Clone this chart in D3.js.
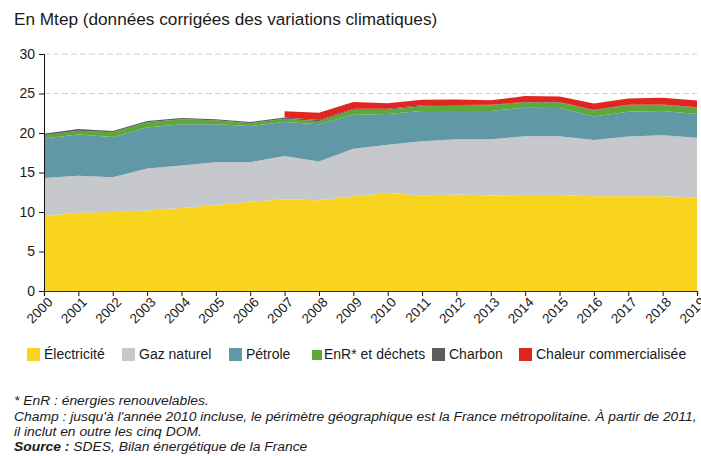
<!DOCTYPE html>
<html>
<head>
<meta charset="utf-8">
<script src="https://cdn.jsdelivr.net/npm/d3@7"></script>
<style>
  body { margin: 0; background: #fff; }
  svg { font-family: "Liberation Sans", Arial, sans-serif; }
</style>
</head>
<body>
<div id="chart"></div>
<script>
const years = [2000, 2001, 2002, 2003, 2004, 2005, 2006, 2007, 2008, 2009,
  2010, 2011, 2012, 2013, 2014, 2015, 2016, 2017, 2018, 2019];

const electricite = [9.5, 9.9, 10.0, 10.2, 10.5, 10.9, 11.3, 11.6, 11.5, 12.0,
  12.4, 12.1, 12.2, 12.1, 12.15, 12.15, 12.0, 12.0, 12.0, 11.85];
const gazNaturel = [4.8, 4.7, 4.4, 5.3, 5.4, 5.4, 5.0, 5.5, 4.9, 6.0,
  6.1, 6.85, 7.0, 7.1, 7.45, 7.45, 7.1, 7.55, 7.7, 7.55];
const petrole = [5.0, 5.2, 5.1, 5.2, 5.2, 4.8, 4.6, 4.3, 4.7, 4.3,
  3.9, 3.85, 3.6, 3.6, 3.6, 3.55, 3.0, 3.15, 3.1, 3.0];
const enr = [0.4, 0.5, 0.6, 0.65, 0.65, 0.5, 0.35, 0.4, 0.4, 0.65,
  0.55, 0.6, 0.65, 0.7, 0.65, 0.7, 0.75, 0.8, 0.75, 0.8];
const charbon = [0.22, 0.2, 0.15, 0.18, 0.15, 0.15, 0.15, 0.15, 0.15, 0.13,
  0.13, 0.1, 0.1, 0.08, 0.08, 0.07, 0.07, 0.07, 0.06, 0.06];
// pas de donnée avant 2007
const chaleur = [null, null, null, null, null, null, null, 0.8, 0.9, 0.85,
  0.7, 0.7, 0.7, 0.55, 0.75, 0.7, 0.8, 0.8, 0.85, 0.85];

const seriesNames = ["Électricité", "Gaz naturel", "Pétrole", "EnR* et déchets",
  "Charbon", "Chaleur commercialisée"];
const yTicks = [0, 5, 10, 15, 20, 25, 30];

const title = "En Mtep (données corrigées des variations climatiques)";
const notes = [
  { text: "* EnR : énergies renouvelables.", bold: null },
  { text: "Champ : jusqu'à l'année 2010 incluse, le périmètre géographique est la France métropolitaine. À partir de 2011,", bold: null },
  { text: "il inclut en outre les cinq DOM.", bold: null },
  { text: " SDES, Bilan énergétique de la France", bold: "Source :" }
];

const colors = ["#f9d41e", "#c7c8cb", "#6198a6", "#5ea83a", "#5b5d5f", "#e1251f"];

const w = 701;
const h = 456;
const marginLeft = 44;
const plotRight = 697;
const plotTop = 54;
const plotBottom = 291;

const rows = years.map(function (yr, i) {
  return {
    year: yr,
    s0: electricite[i],
    s1: gazNaturel[i],
    s2: petrole[i],
    s3: enr[i],
    s4: charbon[i],
    s5: chaleur[i] === null ? 0 : chaleur[i],
    hasChaleur: chaleur[i] !== null
  };
});
const keys = ["s0", "s1", "s2", "s3", "s4", "s5"];

const stacked = d3.stack().keys(keys)(rows);

let x = d3.scaleLinear()
  .domain([years[0], years[years.length - 1]])
  .range([marginLeft, plotRight]);

let y = d3.scaleLinear()
  .domain([0, 30])
  .range([plotBottom, plotTop]);

let svg = d3.select("#chart")
  .append("svg")
  .attr("width", w)
  .attr("height", h);

svg.append("text")
  .attr("x", 14)
  .attr("y", 25)
  .attr("font-size", 17.2)
  .attr("fill", "#1a1a1a")
  .text(title);

// grille pointillée
svg.append("g")
  .selectAll("line")
  .data(yTicks.filter(function (d) { return d > 0; }))
  .enter()
  .append("line")
  .attr("x1", marginLeft)
  .attr("x2", plotRight)
  .attr("y1", function (d) { return y(d); })
  .attr("y2", function (d) { return y(d); })
  .attr("stroke", "#cfcfcf")
  .attr("stroke-width", 1)
  .attr("stroke-dasharray", "6,3");

let area = d3.area()
  .x(function (d) { return x(d.data.year); })
  .y0(function (d) { return y(d[0]); })
  .y1(function (d) { return y(d[1]); });

svg.append("g")
  .selectAll("path")
  .data(stacked)
  .enter()
  .append("path")
  .attr("fill", function (d, i) { return colors[i]; })
  .attr("d", function (d, i) {
    if (i === 5) {
      return area.defined(function (p) { return p.data.hasChaleur; })(d);
    }
    return area.defined(function () { return true; })(d);
  });

// axes
let yAxis = d3.axisLeft(y).tickValues(yTicks).tickSize(5).tickPadding(4);
svg.append("g")
  .attr("transform", `translate(${marginLeft},0)`)
  .call(yAxis)
  .call(function (g) {
    g.selectAll("text").attr("font-size", 14).attr("fill", "#1a1a1a")
      .attr("font-family", "Liberation Sans, Arial, sans-serif");
    g.select(".domain").attr("stroke", "#111");
    g.selectAll(".tick line").attr("stroke", "#111");
  });

let xAxis = d3.axisBottom(x).tickValues(years).tickFormat(d3.format("d")).tickSize(5);
svg.append("g")
  .attr("transform", `translate(0,${plotBottom})`)
  .call(xAxis)
  .call(function (g) {
    g.select(".domain").attr("stroke", "#333").attr("stroke-width", 1.2);
    g.selectAll(".tick line").attr("stroke", "#111");
    g.selectAll("text")
      .attr("font-size", 13.5)
      .attr("fill", "#1a1a1a")
      .attr("font-family", "Liberation Sans, Arial, sans-serif")
      .attr("text-anchor", "end")
      .attr("dy", null)
      .attr("y", null)
      .attr("transform", "translate(9,12) rotate(-45)");
  });

// légende
const legendX = [27, 122, 229, 311, 432, 519];
const legendY = 354;
let legend = svg.append("g")
  .selectAll("g")
  .data(seriesNames)
  .enter()
  .append("g")
  .attr("transform", function (d, i) { return `translate(${legendX[i]},${legendY})`; });

legend.append("rect")
  .attr("x", function (d, i) { return i === 3 ? 1 : 0; })
  .attr("y", function (d, i) { return i === 3 ? -4 : -6; })
  .attr("width", function (d, i) { return i === 3 ? 10 : 13; })
  .attr("height", function (d, i) { return i === 3 ? 10 : 13; })
  .attr("fill", function (d, i) { return colors[i]; });

legend.append("text")
  .attr("x", function (d, i) { return i === 3 ? 13 : 17; })
  .attr("y", 5)
  .attr("font-size", 14)
  .attr("fill", "#1a1a1a")
  .text(function (d) { return d; });

// notes
let notesG = svg.append("g");
let noteText = notesG.selectAll("text")
  .data(notes)
  .enter()
  .append("text")
  .attr("x", 14)
  .attr("y", function (d, i) { return 405.5 + i * 15.3; })
  .attr("font-size", 13.5)
  .attr("font-style", "italic")
  .attr("fill", "#1a1a1a");

noteText.filter(function (d) { return d.bold; })
  .append("tspan")
  .attr("font-weight", "bold")
  .text(function (d) { return d.bold; });
noteText.append("tspan")
  .text(function (d) { return d.text; });

// texte condensé comme dans la source
const len = noteText.filter(function (d, i) { return i === 1; }).node().getComputedTextLength();
const k = 683 / len;
notesG.attr("transform", `translate(${14 - 14 * k},0) scale(${k},1)`);
</script>
</body>
</html>
